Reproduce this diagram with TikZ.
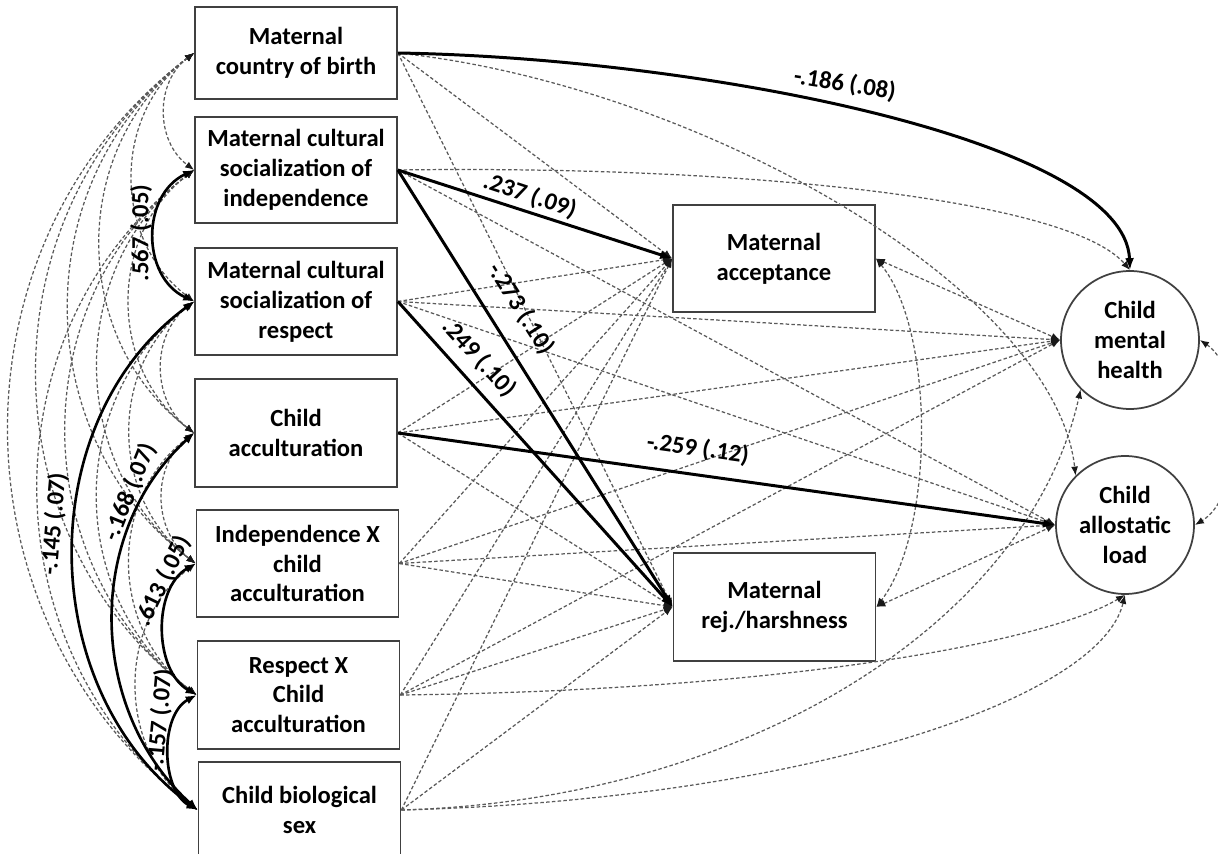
\documentclass[tikz,border=0pt]{standalone}
\usepackage{fontspec}
\setmainfont{Carlito}
\usetikzlibrary{arrows.meta}
% covariance arc on the left side of two stacked boxes
\newcommand\leftarc[5]{\draw[#1] (#2.west) .. controls +(-#4,#5) and +(-#4,-#5) .. (#3.west);}
\begin{document}
\begin{tikzpicture}[x=0.02cm,y=-0.02cm,
  font=\fontsize{14}{17}\selectfont\bfseries,
  lbox/.style={draw=black!75, line width=1pt, minimum width=4.04cm, align=center, inner sep=0pt},
  oval/.style={circle, draw=black!75, line width=1pt, minimum size=2.76cm, align=center, inner sep=0pt},
  lab/.style={inner sep=0pt},
  sol/.style={black, line width=1.7pt, -{Latex[length=0.24cm,width=0.18cm]}},
  solcov/.style={black, line width=1.5pt, {Latex[length=0.22cm,width=0.17cm]}-{Latex[length=0.22cm,width=0.17cm]}},
  dsh/.style={black!65, line width=0.7pt, dash pattern=on 2pt off 1.3pt, -{Latex[length=0.18cm,width=0.14cm,color=black!90]}},
  dcov/.style={black!65, line width=0.7pt, dash pattern=on 2pt off 1.3pt, {Latex[length=0.18cm,width=0.14cm,color=black!90]}-{Latex[length=0.18cm,width=0.14cm,color=black!90]}}]

\fill[white] (0,0) rectangle (1218,854);
\useasboundingbox (0,0) rectangle (1218,854);

% exogenous variables
\node[lbox, minimum height=1.84cm] (cb)  at (296,53)    {Maternal\\country of birth};
\node[lbox, minimum height=2.12cm] (ind) at (296,170)   {Maternal cultural\\socialization of\\independence};
\node[lbox, minimum height=2.14cm] (res) at (296,301.5) {Maternal cultural\\socialization of\\respect};
\node[lbox, minimum height=2.16cm] (ca)  at (296,433)   {Child\\acculturation};
\node[lbox, minimum height=2.14cm] (ix)  at (297.5,563.5) {Independence X\\child\\acculturation};
\node[lbox, minimum height=2.16cm] (rx)  at (298.5,695) {Respect X\\Child\\acculturation};
\node[lbox, minimum height=1.92cm] (sex) at (299.5,810) {Child biological\\sex};

% mediators
\node[lbox, minimum height=2.14cm] (acc) at (774,258.5) {Maternal\\acceptance};
\node[lbox, minimum height=2.16cm] (rej) at (774.5,607) {Maternal\\rej./harshness};

% outcomes
\node[oval] (mh) at (1130,340) {Child\\mental\\health};
\node[oval] (al) at (1125,525) {Child\\allostatic\\load};

% non-significant regressions
\foreach \s in {cb,res,ca,ix,rx,sex} \draw[dsh] (\s.east) -- (acc.west);
\foreach \s in {cb,ca,ix,rx,sex} \draw[dsh] (\s.east) -- (rej.west);
\foreach \s in {res,ca,ix,rx} \draw[dsh] (\s.east) -- (mh.west);
\foreach \s in {ind,res,ix} \draw[dsh] (\s.east) -- (al.west);
\draw[dsh] (ind.east) .. controls (750,165) and (1070,200) .. (mh.north);
\draw[dsh] (cb.east) .. controls (700,85) and (1055,290) .. (al.north west);
\draw[dsh] (sex.east) .. controls (750,800) and (1030,620) .. (mh.south west);
\draw[dsh] (rx.east) .. controls (800,690) and (1050,640) .. (al.south);
\draw[dsh] (sex.east) .. controls (800,800) and (1100,700) .. (al.south);

% residual covariances
\draw[dcov] (acc.east) -- (mh.west);
\draw[dcov] (acc.east) .. controls (935,330) and (935,530) .. (rej.east);
\draw[dcov] (rej.east) -- (al.west);
\draw[dcov] (mh.east) .. controls (1245,370) and (1245,495) .. (al.east);

% non-significant covariances among exogenous variables
\leftarc{dcov}{cb}{ind}{39}{29}
\leftarc{dcov}{cb}{res}{82}{62}
\leftarc{dcov}{cb}{ca}{125}{95}
\leftarc{dcov}{cb}{ix}{168}{127}
\leftarc{dcov}{cb}{rx}{211}{160}
\leftarc{dcov}{cb}{sex}{249}{189}
\leftarc{dcov}{ind}{ca}{86}{65}
\leftarc{dcov}{ind}{ix}{129}{98}
\leftarc{dcov}{ind}{rx}{172}{130}
\leftarc{dcov}{ind}{sex}{210}{160}
\leftarc{dcov}{res}{ca}{43}{33}
\leftarc{dcov}{res}{ix}{86}{65}
\leftarc{dcov}{res}{rx}{130}{98}
\leftarc{dcov}{ca}{ix}{43}{33}
\leftarc{dcov}{ca}{rx}{87}{65}
\leftarc{dcov}{ix}{sex}{80}{60}

% significant covariances
\leftarc{solcov}{ind}{res}{53}{25}
\leftarc{solcov}{res}{sex}{163}{120}
\leftarc{solcov}{ca}{sex}{110}{100}
\leftarc{solcov}{ix}{rx}{43}{25}
\leftarc{solcov}{rx}{sex}{37}{20}

% significant regressions
\draw[sol] (cb.east) .. controls (700,58) and (1125,140) .. (mh.north);
\draw[sol] (ind.east) -- (acc.west);
\draw[sol] (ind.east) -- (rej.west);
\draw[sol] (res.east) -- (rej.west);
\draw[sol] (ca.east) -- (al.west);

% estimates
\node[lab, rotate=-9]    (e1)  at (845,84)  {-.186 (.08)};
\node[lab, rotate=-18.4] (e2)  at (530,196) {.237 (.09)};
\node[lab, rotate=-57.5] (e3)  at (521,309) {-.273 (.10)};
\node[lab, rotate=-47.5] (e4)  at (479,358) {.249 (.10)};
\node[lab, rotate=-8]    (e5)  at (698,449) {-.259 (.12)};
\node[lab, rotate=90]    (e6)  at (141,233) {.567 (.05)};
\node[lab, rotate=85]    (e7)  at (54,524)  {-.145 (.07)};
\node[lab, rotate=68]    (e8)  at (130,492) {-.168 (.07)};
\node[lab, rotate=64]    (e9)  at (163,581) {.613 (.05)};
\node[lab, rotate=85]    (e10) at (160,720) {-.157 (.07)};
\end{tikzpicture}
\end{document}
